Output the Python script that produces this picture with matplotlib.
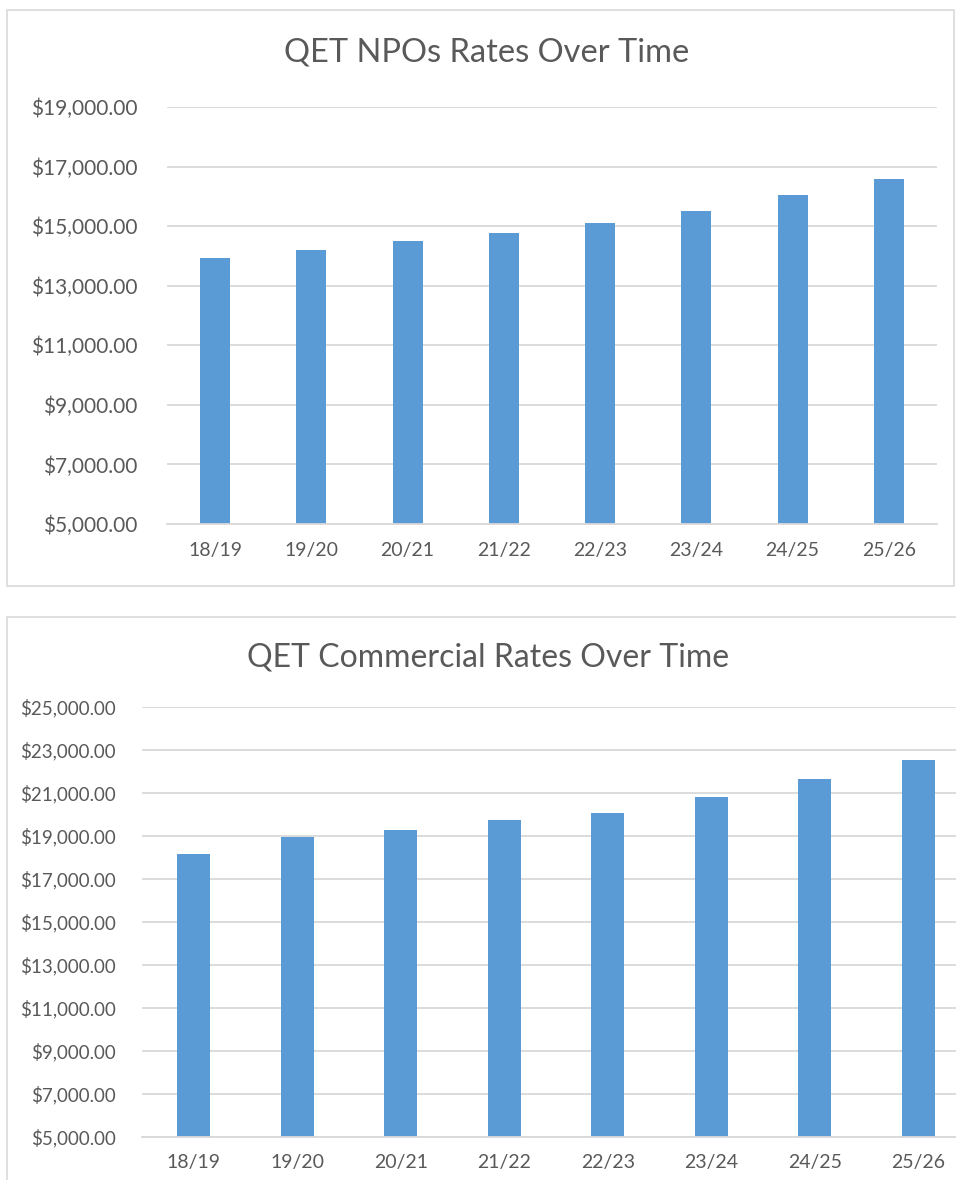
import matplotlib.pyplot as plt
from matplotlib.patches import Rectangle
from matplotlib.ticker import FuncFormatter, FixedLocator

# data
years = ['18/19', '19/20', '20/21', '21/22', '22/23', '23/24', '24/25', '25/26']
npo_rates = [13930, 14205, 14490, 14760, 15100, 15500, 16055, 16590]
commercial_rates = [18175, 18955, 19295, 19745, 20090, 20830, 21640, 22530]

bar_color = '#5B9BD5'
grid_color = '#D9D9D9'
text_color = '#595959'

plt.rcParams['font.family'] = ['Lato', 'DejaVu Sans']

W, H = 956, 1180
fig = plt.figure(figsize=(W / 100, H / 100), dpi=100)


def px_box(x0, y0, x1, y1):
    # pixel coords (top-left origin) -> figure fraction rect
    return [x0 / W, 1 - y1 / H, (x1 - x0) / W, (y1 - y0) / H]


def money(v, pos):
    return '${:,.2f}'.format(v)


def style_axes(ax, ymin, ymax, ypad, xpad, yfs, xfs):
    ax.set_ylim(ymin, ymax)
    ax.set_xlim(-0.5, len(years) - 0.5)
    ax.yaxis.set_major_locator(FixedLocator(list(range(ymin, ymax + 1, 2000))))
    ax.yaxis.set_major_formatter(FuncFormatter(money))
    ax.grid(axis='y', color=grid_color, linewidth=1.3)
    ax.set_axisbelow(True)
    for s in ['top', 'right', 'left']:
        ax.spines[s].set_visible(False)
    ax.spines['bottom'].set_color(grid_color)
    ax.spines['bottom'].set_linewidth(1.3)
    ax.tick_params(axis='y', length=0, pad=ypad, labelsize=yfs, labelcolor=text_color)
    ax.tick_params(axis='x', length=0, pad=xpad, labelsize=xfs, labelcolor=text_color)
    ax.set_facecolor('none')


# chart frames
fig.patches.append(Rectangle((7 / W, 1 - 586 / H), 947 / W, 576 / H, transform=fig.transFigure,
                             fill=False, edgecolor='#D9D9D9', linewidth=1.2))
fig.patches.append(Rectangle((7 / W, -0.05), 1.0, 1.05 - 617 / H, transform=fig.transFigure,
                             fill=False, edgecolor='#D9D9D9', linewidth=1.2))

# top chart
ax1 = fig.add_axes(px_box(167, 107, 937, 524))
ax1.bar(years, npo_rates, width=0.31, color=bar_color)
style_axes(ax1, 5000, 19000, 21, 13, 15, 14)
fig.text(487 / W, 1 - 53 / H, 'QET NPOs Rates Over Time', ha='center', va='center',
         fontsize=23.5, color=text_color)

# bottom chart (cut off at right edge like the original)
ax2 = fig.add_axes(px_box(142, 707, 970, 1137))
ax2.bar(years, commercial_rates, width=0.32, color=bar_color)
style_axes(ax2, 5000, 25000, 19, 12, 13.5, 14)
fig.text(488 / W, 1 - 657 / H, 'QET Commercial Rates Over Time', ha='center', va='center',
         fontsize=23, color=text_color)

fig.savefig('out.png', dpi=100)
